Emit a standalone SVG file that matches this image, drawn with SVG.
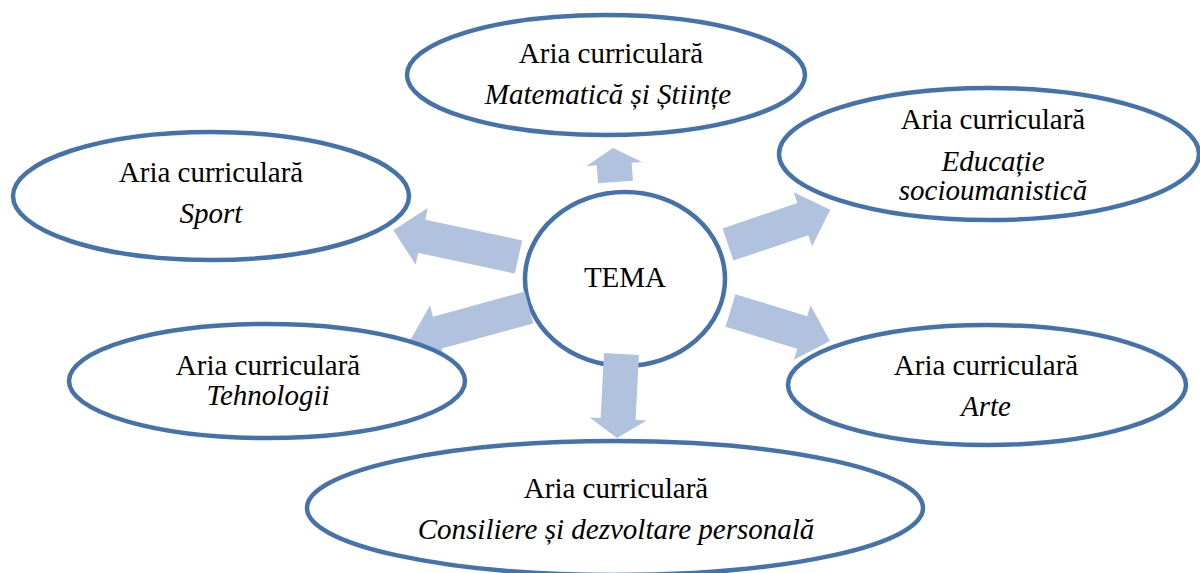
<svg xmlns="http://www.w3.org/2000/svg" width="1200" height="573" viewBox="0 0 1200 573">
<style>
.node{fill:#ffffff;stroke:#4672AA;stroke-width:4.5}
.arrow{fill:#B0C2DE;stroke:none}
.lbl{font-size:29px;fill:#000000;text-anchor:middle}
.it{font-style:italic}
</style>
<rect width="1200" height="573" fill="#ffffff"/>
<g font-family="'Liberation Serif', 'Times New Roman', Tinos, 'DejaVu Serif', serif">
<g id="tema">
<ellipse class="node" cx="625" cy="279" rx="100" ry="87"/>
<text class="lbl" x="625" y="287">TEMA</text>
</g>
<g id="connectors">
<polygon class="arrow" transform="translate(615.5,182) rotate(-94.3)" points="0,-17.5 18,-17.5 18,-28 34,0 18,28 18,17.5 0,17.5"/>
<polygon class="arrow" transform="translate(518.5,257) rotate(192.1)" points="0,-17 99,-17 99,-29 128,0 99,29 99,17 0,17"/>
<polygon class="arrow" transform="translate(529,307.5) rotate(164.7)" points="0,-16.5 95,-16.5 95,-28 123,0 95,28 95,16.5 0,16.5"/>
<polygon class="arrow" transform="translate(728,244.5) rotate(-18.7)" points="0,-17 79,-17 79,-28.5 108,0 79,28.5 79,17 0,17"/>
<polygon class="arrow" transform="translate(730.5,310.5) rotate(17)" points="0,-17 75,-17 75,-28.5 104,0 75,28.5 75,17 0,17"/>
<polygon class="arrow" transform="translate(621.5,354) rotate(93)" points="0,-17.5 65,-17.5 65,-28.5 84,0 65,28.5 65,17.5 0,17.5"/>
</g>
<g id="matematica">
<ellipse class="node" cx="606" cy="75" rx="199" ry="60"/>
<text class="lbl" x="611" y="63">Aria curriculară</text>
<text class="lbl it" x="608" y="104">Matematică și Științe</text>
</g>
<g id="educatie">
<ellipse class="node" cx="989" cy="154" rx="210" ry="66"/>
<text class="lbl" x="993" y="129">Aria curriculară</text>
<text class="lbl it" x="993" y="171">Educație</text>
<text class="lbl it" x="993" y="200">socioumanistică</text>
</g>
<g id="sport">
<ellipse class="node" cx="211" cy="196" rx="198" ry="64"/>
<text class="lbl" x="211" y="182">Aria curriculară</text>
<text class="lbl it" x="211" y="223">Sport</text>
</g>
<g id="tehnologii">
<ellipse class="node" cx="267" cy="381" rx="198" ry="57"/>
<text class="lbl" x="268" y="375">Aria curriculară</text>
<text class="lbl it" x="268" y="405">Tehnologii</text>
</g>
<g id="arte">
<ellipse class="node" cx="987" cy="385" rx="199" ry="60"/>
<text class="lbl" x="986" y="375">Aria curriculară</text>
<text class="lbl it" x="986" y="416">Arte</text>
</g>
<g id="consiliere">
<ellipse class="node" cx="615" cy="508" rx="308" ry="67"/>
<text class="lbl" x="616" y="498">Aria curriculară</text>
<text class="lbl it" x="616" y="539">Consiliere și dezvoltare personală</text>
</g>
</g>
</svg>
